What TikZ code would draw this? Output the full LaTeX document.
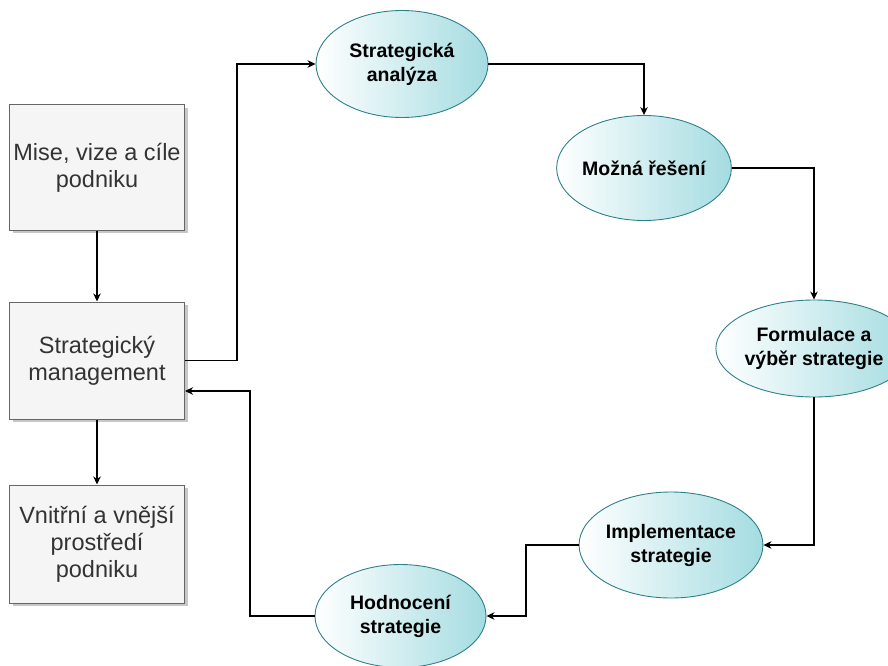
\documentclass[tikz,border=0pt]{standalone}
\usepackage{fontspec}
\setmainfont{Liberation Sans}
\usetikzlibrary{arrows.meta,shadows,positioning}
\definecolor{boxfill}{HTML}{F5F5F5}
\definecolor{boxline}{HTML}{666666}
\definecolor{boxtext}{HTML}{333333}
\definecolor{tealfill}{HTML}{A4DCE1}
\definecolor{tealline}{HTML}{2E8189}
\tikzset{
  infobox/.style={draw=boxline, fill=boxfill, line width=1pt, text=boxtext,
    minimum width=175pt, inner sep=0pt, align=center,
    font=\fontsize{23.5}{27}\selectfont,
    drop shadow={shadow xshift=3pt, shadow yshift=-3pt, fill=black, opacity=0.22}},
  stage/.style={ellipse, draw=tealline, line width=0.9pt, left color=white,
    right color=tealfill, inner sep=0pt, align=center,
    font=\bfseries\fontsize{19.5}{24}\selectfont},
  flow/.style={line width=1.1pt, -{Stealth[length=8pt,width=7.5pt,inset=2.5pt]}}
}
\usetikzlibrary{shapes.geometric}
\begin{document}
\begin{tikzpicture}[x=1pt,y=-1pt]
  \useasboundingbox (0,0) rectangle (888,666);

  % left column: context boxes
  \node[infobox, minimum height=125pt] (mise) at (97,167.5) {Mise, vize a cíle\\podniku};
  \node[infobox, minimum height=117pt] (mgmt) at (97,360.5) {Strategický\\management};
  \node[infobox, minimum height=118pt] (env) at (97,544) {Vnitřní a vnější\\prostředí\\podniku};

  % the strategic cycle
  \node[stage, minimum width=172pt, minimum height=107pt] (anal) at (402,64) {Strategická\\analýza};
  \node[stage, minimum width=158pt, minimum height=105pt] (opts) at (644,168) {Možná řešení};
  \node[stage, minimum width=156pt, minimum height=97pt] (form) at (814,348.5) {Formulace a\\výběr strategie};
  \node[stage, minimum width=158pt, minimum height=106pt] (impl) at (671,545) {Implementace\\strategie};
  \node[stage, minimum width=171pt, minimum height=103pt] (eval) at (400.5,616) {Hodnocení\\strategie};

  \coordinate (up) at (237,360.5);
  \coordinate (back) at (250,391);
  \coordinate (down) at (526,545);

  \draw[flow] (mise) -- (mgmt);
  \draw[flow] (mgmt) -- (env);
  \draw[flow] (mgmt.east) -- (up) |- (anal.west);
  \draw[flow] (anal.east) -| (opts.north);
  \draw[flow] (opts.east) -| (form.north);
  \draw[flow] (form.south) |- (impl.east);
  \draw[flow] (impl.west) -- (down) |- (eval.east);
  \draw[flow] (eval.west) -| (back) -- (back -| mgmt.east);
\end{tikzpicture}
\end{document}
